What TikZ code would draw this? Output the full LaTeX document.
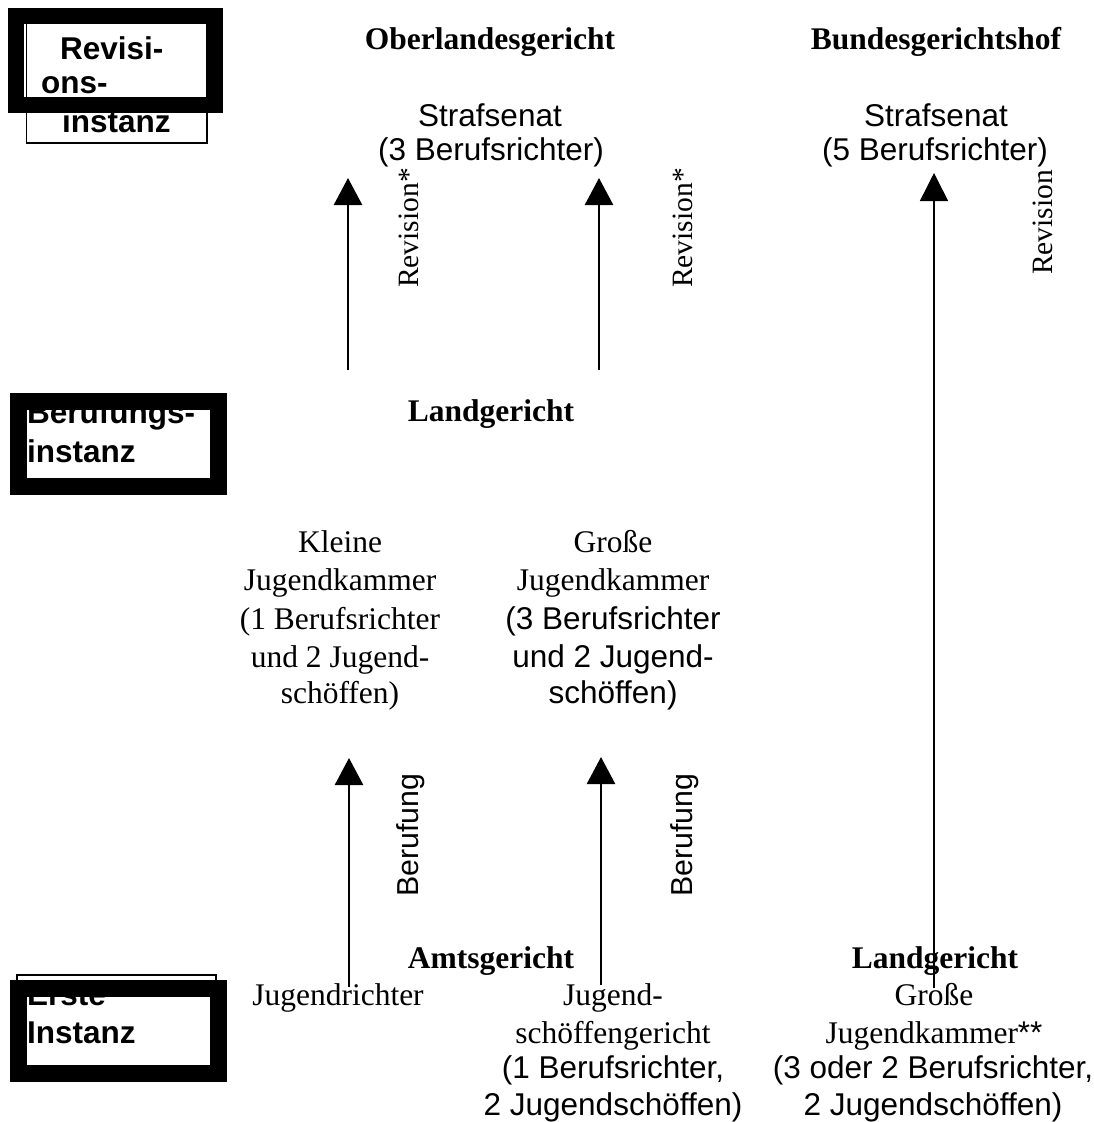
\documentclass[tikz,border=0pt]{standalone}
\usepackage{fontspec}
\setmainfont{Liberation Serif}
\setsansfont{Liberation Sans}
\usetikzlibrary{arrows.meta}
\tikzset{
  txt/.style={inner sep=0pt, anchor=base, font=\fontsize{31.5}{36}\selectfont\rmfamily},
  stxt/.style={inner sep=0pt, anchor=base, font=\fontsize{31.5}{36}\selectfont\sffamily},
  btxt/.style={inner sep=0pt, anchor=base, font=\fontsize{31.5}{36}\selectfont\rmfamily\bfseries},
  boxtxt/.style={inner sep=0pt, anchor=base west, font=\fontsize{31.5}{36}\selectfont\sffamily\bfseries},
  rtxt/.style={inner sep=0pt, anchor=base west, rotate=90, font=\fontsize{29.5}{34}\selectfont\rmfamily},
  rstxt/.style={inner sep=0pt, anchor=base west, rotate=90, font=\fontsize{30.3}{34}\selectfont\sffamily},
  thickframe/.style={draw=black, line width=16.5pt, miter limit=10},
  thinframe/.style={draw=black, line width=1.4pt},
  arr/.style={line width=2.7pt, -{Triangle[length=27pt,width=28pt]}},
  arrthin/.style={line width=1.5pt, -{Triangle[length=28pt,width=28pt]}}
}
\begin{document}
\begin{tikzpicture}[x=1pt,y=-1pt]
\useasboundingbox (0,0) rectangle (1093,1122);
\fill[white] (0,0) rectangle (1093,1122);

% ---- left level boxes ----
\draw[thinframe] (26.5,20) rectangle (207,143);
\node[boxtxt] (rev1) at (60,59) {Revisi-};
\node[boxtxt] (rev2) at (41,93) {ons-};
\node[boxtxt] (rev3) at (62,132) {instanz};
\draw[thickframe] (16,16) rectangle (215,105);

\node[boxtxt] (ber1) at (27,423) {Berufungs-};
\node[boxtxt] (ber2) at (27,462) {instanz};
\draw[thickframe] (18.5,401.5) rectangle (218.5,486.5);

\draw[thinframe] (17,975) rectangle (216,1070);
\node[boxtxt] (ers1) at (27,1005) {Erste};
\node[boxtxt] (ers2) at (27,1043) {Instanz};
\draw[thickframe] (18.5,988.5) rectangle (218.5,1073.5);

% ---- top row ----
\node[btxt] (olg) at (490,49) {Oberlandesgericht};
\node[btxt] (bgh) at (936,49) {Bundesgerichtshof};
\node[stxt] (olgs1) at (490,126) {Strafsenat};
\node[stxt] (olgs2) at (491,160) {(3 Berufsrichter)};
\node[stxt] (bghs1) at (936,126) {Strafsenat};
\node[stxt] (bghs2) at (935,160) {(5 Berufsrichter)};

% ---- middle ----
\node[btxt] (lg) at (491,421) {Landgericht};
\node[txt] (kj1) at (340,552) {Kleine};
\node[txt] (kj2) at (340,590) {Jugendkammer};
\node[txt] (kj3) at (340,629) {(1 Berufsrichter};
\node[txt] (kj4) at (340,667) {und 2 Jugend-};
\node[txt] (kj5) at (340,703) {schöffen)};
\node[txt] (gj1) at (613,552) {Große};
\node[txt] (gj2) at (613,590) {Jugendkammer};
\node[stxt] (gj3) at (613,629) {(3 Berufsrichter};
\node[stxt] (gj4) at (613,667) {und 2 Jugend-};
\node[stxt] (gj5) at (613,703) {schöffen)};

% ---- bottom ----
\node[btxt] (ag) at (491,968) {Amtsgericht};
\node[txt] (jr) at (338,1005) {Jugendrichter};
\node[txt] (js1) at (613,1005) {Jugend-};
\node[txt] (js2) at (613,1043) {schöffengericht};
\node[stxt] (js3) at (613,1078) {(1 Berufsrichter,};
\node[stxt] (js4) at (613,1115) {2 Jugendschöffen)};
\node[btxt] (lg2) at (935,968) {Landgericht};
\node[txt] (gk1) at (934,1005) {Große};
\node[txt] (gk2) at (934,1043) {Jugendkammer{\sffamily **}};
\node[stxt] (gk3) at (933,1078) {(3 oder 2 Berufsrichter,};
\node[stxt] (gk4) at (933,1115) {2 Jugendschöffen)};

% ---- arrow end points ----
\coordinate (a1s) at (348,370);  \coordinate (a1e) at (348,178);
\coordinate (a2s) at (599,370);  \coordinate (a2e) at (599,178);
\coordinate (a3s) at (934,988);  \coordinate (a3e) at (934,173);
\coordinate (a4s) at (349,987);  \coordinate (a4e) at (349,758);
\coordinate (a5s) at (601,985);  \coordinate (a5e) at (601,757);

\draw[arr] (a1s) -- (a1e);
\draw[arr] (a2s) -- (a2e);
\draw[arrthin] (a3s) -- (a3e);
\draw[arr] (a4s) -- (a4e);
\draw[arr] (a5s) -- (a5e);

% ---- arrow labels ----
\node[rtxt] (l1) at (418,288) {Revision*};
\node[rtxt] (l2) at (692,288) {Revision*};
\node[rtxt] (l3) at (1052,275) {Revision};
\node[rstxt] (l4) at (418,897) {Berufung};
\node[rstxt] (l5) at (692,897) {Berufung};
\end{tikzpicture}
\end{document}
